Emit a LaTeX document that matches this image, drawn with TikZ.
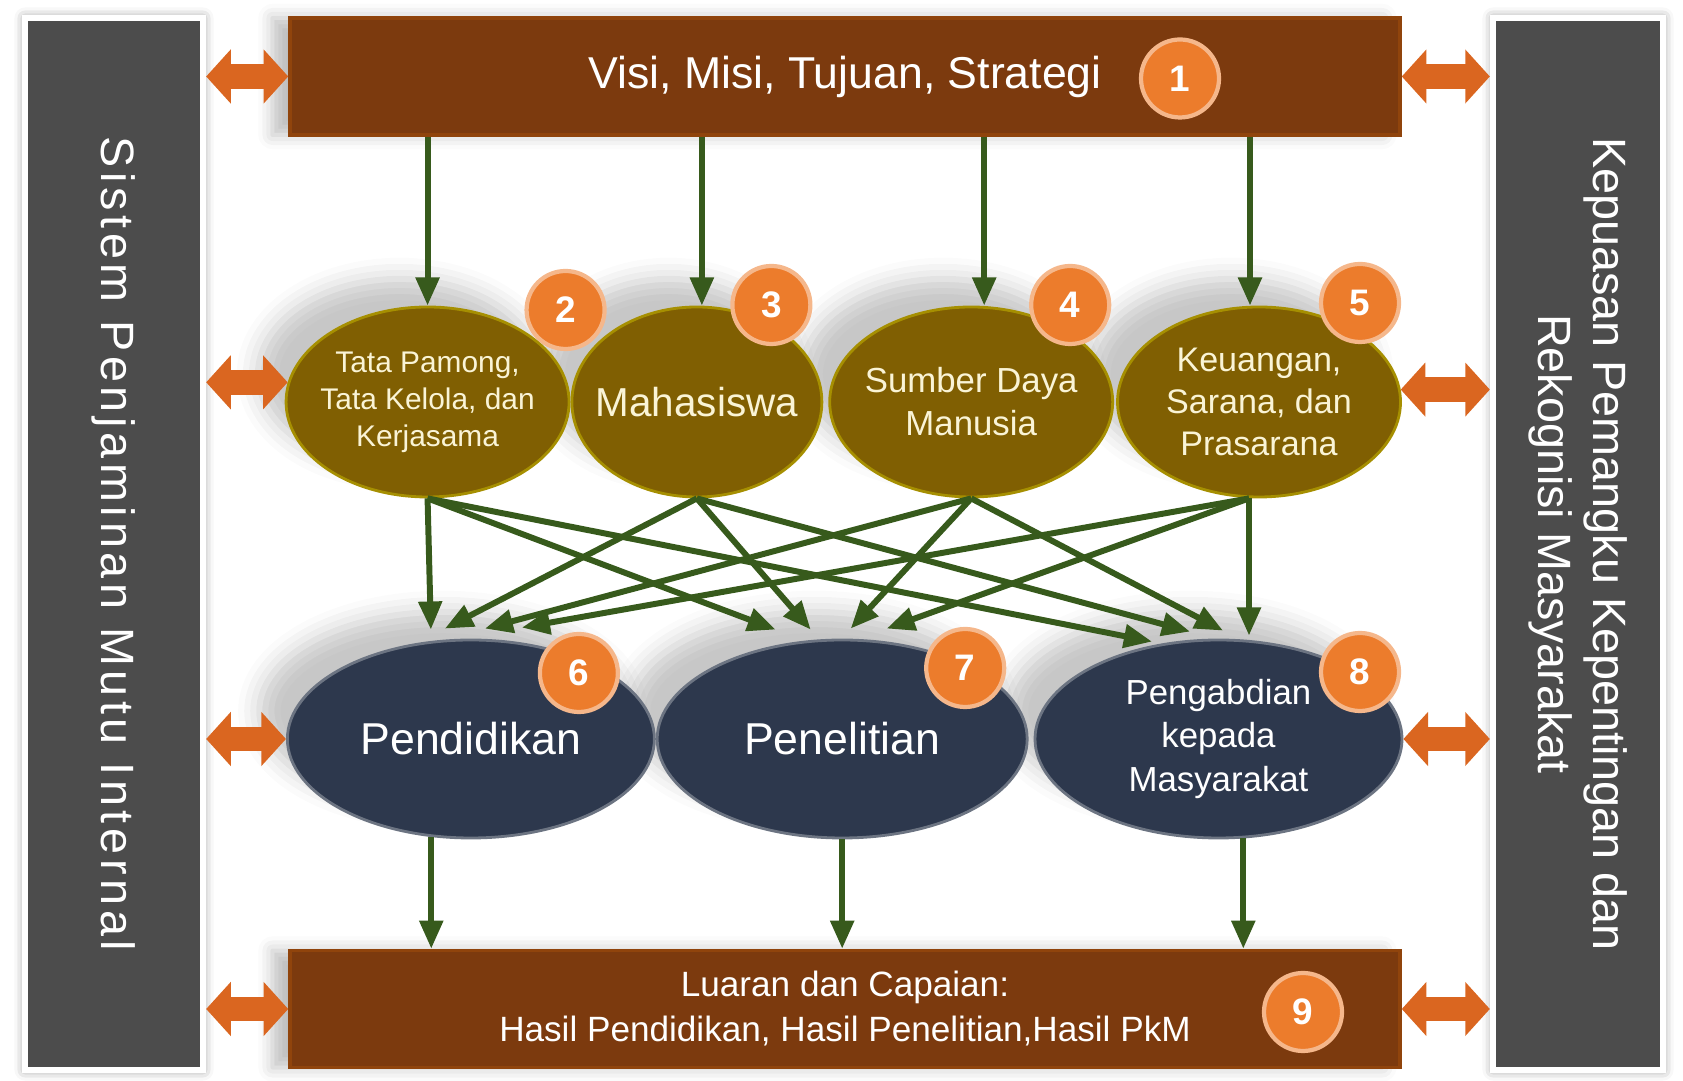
\documentclass[tikz,border=0pt]{standalone}
\usepackage{fontspec}
\setsansfont{Liberation Sans}
\newfontfamily\spacedsf[LetterSpace=10]{Liberation Sans}
\usepackage{xcolor}
\usetikzlibrary{positioning,calc,arrows.meta,shapes.geometric,shadows.blur}

\definecolor{sidegrey}{RGB}{76,76,76}
\definecolor{barbrown}{RGB}{124,58,14}
\definecolor{olivefill}{RGB}{128,95,2}
\definecolor{navyfill}{RGB}{45,56,77}
\definecolor{badgeorange}{RGB}{236,124,44}
\definecolor{linkorange}{RGB}{218,102,32}
\definecolor{flowgreen}{RGB}{55,90,28}
\definecolor{creamtext}{RGB}{250,244,214}

\tikzset{
  sidebar/.style={draw=white, line width=1.8pt, fill=sidegrey, minimum width=1.78cm, minimum height=10.52cm, inner sep=0pt,
    blur shadow={shadow xshift=0pt, shadow yshift=0pt, shadow blur radius=3pt, shadow opacity=45}},
  mainbar/.style={fill=barbrown, draw=barbrown!85!orange, line width=1pt, minimum width=11.1cm, minimum height=1.17cm, text=white, align=center,
    blur shadow={shadow xshift=-5pt, shadow yshift=0pt, shadow blur radius=4pt, shadow opacity=25}},
  pillar/.style={ellipse, fill=olivefill, draw=olivefill!70!yellow, line width=0.8pt, minimum width=2.83cm, minimum height=1.9cm, inner xsep=-0.3cm, inner ysep=0pt, text=creamtext, align=center,
    blur shadow={shadow xshift=-8pt, shadow yshift=8pt, shadow blur radius=6pt, shadow opacity=22}},
  process/.style={ellipse, fill=navyfill, draw=navyfill!70!white, line width=0.8pt, minimum width=3.67cm, minimum height=1.98cm, inner sep=0pt, text=white, align=center,
    blur shadow={shadow xshift=-8pt, shadow yshift=8pt, shadow blur radius=6pt, shadow opacity=22}},
  badge/.style={circle, fill=badgeorange, draw=badgeorange!55!white, line width=1.2pt, minimum size=0.78cm, inner sep=0pt, text=white, font=\sffamily\bfseries\fontsize{10.5}{10.5}\selectfont},
  flow/.style={draw=flowgreen, line width=1.7pt, -{Triangle[length=8pt,width=6.5pt]}},
  link/.style={draw=linkorange, line width=7pt, {Triangle[length=7pt,width=15pt]}-{Triangle[length=7pt,width=15pt]}}
}

\begin{document}
\begin{tikzpicture}
\useasboundingbox (0,0) rectangle (16.83,-10.81);
% side panels
\node[sidebar](Lbar) at (1.14,-5.44){};
\node[sidebar, minimum width=1.70cm](Rbar) at (15.78,-5.44){};
\node[rotate=-90, text=white, font=\spacedsf\fontsize{13.3}{15}\selectfont](LbarText) at (Lbar.center){Sistem Penjaminan Mutu Internal};
\node[rotate=-90, text=white, align=center, font=\sffamily\fontsize{13.3}{15.6}\selectfont](RbarText) at (Rbar.center){Kepuasan Pemangku Kepentingan dan\\ Rekognisi Masyarakat};

\node[mainbar, font=\sffamily\fontsize{12.7}{14}\selectfont](Vision) at (8.45,-0.765){Visi, Misi, Tujuan, Strategi};
\node[mainbar, font=\sffamily\fontsize{10}{12.8}\selectfont](Output) at (8.45,-10.09){Luaran dan Capaian:\\ Hasil Pendidikan, Hasil Penelitian,Hasil PkM};

\node[pillar, font=\sffamily\fontsize{9.7}{12}\selectfont](Fin) at (12.59,-4.02){Keuangan,\\ Sarana, dan\\ Prasarana};
\node[pillar, left=0.02 of Fin, font=\sffamily\fontsize{9.9}{12.2}\selectfont](HR){Sumber Daya\\ Manusia};
\node[pillar, minimum width=2.50cm, left=0.05 of HR, font=\sffamily\fontsize{11.5}{13}\selectfont](Stud){Mahasiswa};
\node[pillar, left=0 of Stud, font=\sffamily\fontsize{8.5}{10.5}\selectfont](Gov){Tata Pamong,\\ Tata Kelola, dan\\ Kerjasama};

\node[process, font=\sffamily\fontsize{9.9}{12.3}\selectfont](Out) at (12.185,-7.39){Pengabdian\\ kepada\\ Masyarakat};
\node[process, minimum width=3.70cm, left=0.05 of Out, font=\sffamily\fontsize{12.7}{14}\selectfont](Res){Penelitian};
\node[process, left=0 of Res, font=\sffamily\fontsize{12.7}{14}\selectfont](Edu){Pendidikan};

\foreach \p/\dx in {Gov/0,Stud/0.05,HR/0.13,Fin/-0.09}{
  \coordinate (\p In) at ($(\p.north)+(\dx,0)$);
  \draw[flow] (Vision.south -| \p In) -- (\p In);
}

\coordinate (FinOut) at ($(Fin.south)+(-0.10,0)$);
\coordinate (e1) at ($(Edu.north)+(-0.40,0.09)$);
\coordinate (e2) at ($(Edu.north)+(-0.26,0.10)$);
\coordinate (e3) at ($(Edu.north)+(0.14,0.10)$);
\coordinate (e4) at ($(Edu.north)+(0.51,0.11)$);
\coordinate (r1) at ($(Res.north)+(-0.665,0.09)$);
\coordinate (r2) at ($(Res.north)+(-0.315,0.09)$);
\coordinate (r3) at ($(Res.north)+(0.085,0.10)$);
\coordinate (r4) at ($(Res.north)+(0.445,0.10)$);
\coordinate (c1) at ($(Out.north)+(-0.665,-0.03)$);
\coordinate (c2) at ($(Out.north)+(-0.285,0.07)$);
\coordinate (c3) at ($(Out.north)+(0.045,0.08)$);
\coordinate (c4) at (FinOut |- {$(Out.north)+(0,0.03)$});
\foreach \src/\dst in {Gov.south/e1,Stud.south/e2,HR.south/e3,FinOut/e4,Gov.south/r1,Stud.south/r2,HR.south/r3,FinOut/r4,Gov.south/c1,Stud.south/c2,HR.south/c3,FinOut/c4}
  \draw[flow] (\src) -- (\dst);

\draw[flow] (Edu.248) -- (Edu.248 |- Output.north);
\draw[flow] (Res.south) -- (Res.south |- Output.north);
\draw[flow] (Out.284) -- (Out.284 |- Output.north);

\draw[link] (Lbar.east |- Vision.west) -- (Vision.west);
\draw[link] (Lbar.east |- Gov.172) -- (Gov.172);
\draw[link] (Lbar.east |- Edu.west) -- (Edu.west);
\draw[link] (Lbar.east |- Output.west) -- (Output.west);
\draw[link] (Vision.east) -- (Rbar.west |- Vision.east);
\draw[link] (Fin.5) -- (Rbar.west |- Fin.5);
\draw[link] (Out.east) -- (Rbar.west |- Out.east);
\draw[link] (Output.east) -- (Rbar.west |- Output.east);

\node[badge](B1) at ($(Vision.center)+(3.35,-0.02)$){1};
\node[badge](B2) at ($(Gov.center)+(1.38,0.92)$){2};
\node[badge](B3) at ($(Stud.center)+(0.745,0.97)$){3};
\node[badge](B4) at ($(HR.center)+(0.99,0.97)$){4};
\node[badge](B5) at ($(Fin.center)+(1.01,0.99)$){5};
\node[badge](B6) at ($(Edu.center)+(1.08,0.66)$){6};
\node[badge](B7) at ($(Res.center)+(1.23,0.71)$){7};
\node[badge](B8) at ($(Out.center)+(1.415,0.67)$){8};
\node[badge](B9) at ($(Output.center)+(4.58,-0.03)$){9};
\end{tikzpicture}
\end{document}
